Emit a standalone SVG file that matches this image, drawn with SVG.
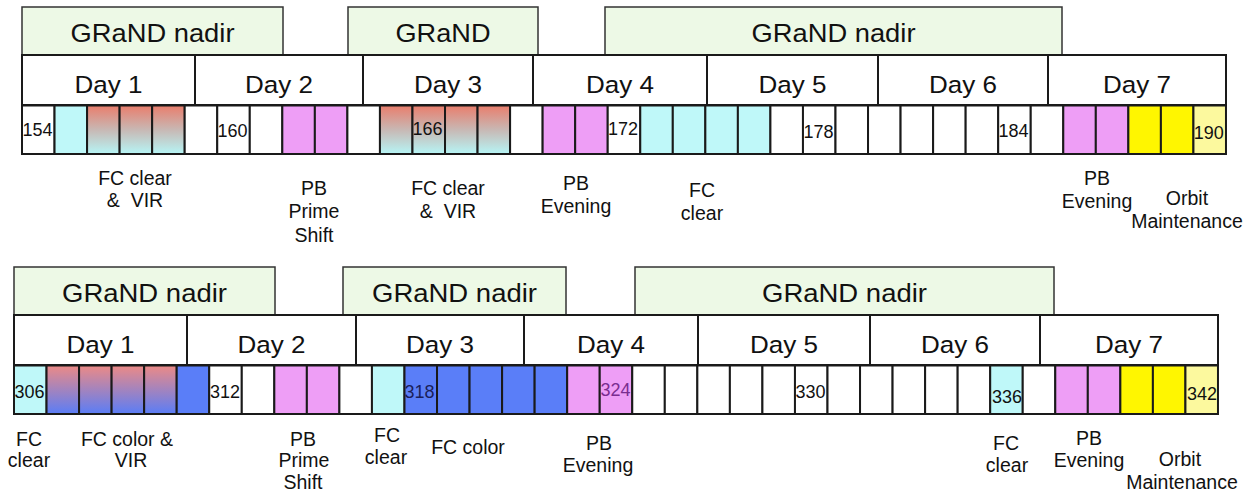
<svg xmlns="http://www.w3.org/2000/svg" width="1251" height="491" viewBox="0 0 1251 491">
<defs>
<linearGradient id="gRC" x1="0" y1="0" x2="0" y2="1">
<stop offset="0" stop-color="#E97D6C"/>
<stop offset="0.5" stop-color="#C8B8B4"/>
<stop offset="1" stop-color="#B6F5F6"/>
</linearGradient>
<linearGradient id="gRB" x1="0" y1="0" x2="0" y2="1">
<stop offset="0" stop-color="#EC8A86"/>
<stop offset="1" stop-color="#5A7DF6"/>
</linearGradient>
<style>
.mode{fill:#EDF9E6;stroke:#333;stroke-width:1.5}
.day{fill:#fff;stroke:#1a1a1a;stroke-width:2}
.c{stroke:#1a1a1a;stroke-width:2}
.W{fill:#fff}.C{fill:#BFF8F9}.M{fill:#EE9EF6}.Y{fill:#FFF600}.L{fill:#FCF99E}.B{fill:#5A7EF8}
.G1{fill:url(#gRC)}.G2{fill:url(#gRB)}
text{font-family:"Liberation Sans",Arial,sans-serif;fill:#111}
.big{font-size:26px;text-anchor:middle}
.dt{font-size:24.5px;text-anchor:middle}
.num{font-size:18px}
.lab{font-size:19.5px;text-anchor:middle}
</style>
</defs>
<rect width="1251" height="491" fill="#fff"/>

<!-- TOP TIMELINE -->
<g id="top-mode-1"><rect class="mode" x="22" y="7" width="261" height="48"/><text class="big" x="152.5" y="41.5" textLength="164" lengthAdjust="spacingAndGlyphs">GRaND nadir</text></g>
<g id="top-mode-2"><rect class="mode" x="348" y="7" width="190" height="48"/><text class="big" x="443" y="41.5" textLength="95" lengthAdjust="spacingAndGlyphs">GRaND</text></g>
<g id="top-mode-3"><rect class="mode" x="605" y="7" width="457" height="48"/><text class="big" x="833.5" y="41.5" textLength="164" lengthAdjust="spacingAndGlyphs">GRaND nadir</text></g>

<g id="top-day-1"><rect class="day" x="22" y="55" width="173" height="50"/><text class="dt" x="108.5" y="92.5" textLength="68" lengthAdjust="spacingAndGlyphs">Day 1</text></g>
<g id="top-day-2"><rect class="day" x="195" y="55" width="168" height="50"/><text class="dt" x="279" y="92.5" textLength="68" lengthAdjust="spacingAndGlyphs">Day 2</text></g>
<g id="top-day-3"><rect class="day" x="363" y="55" width="170" height="50"/><text class="dt" x="448" y="92.5" textLength="68" lengthAdjust="spacingAndGlyphs">Day 3</text></g>
<g id="top-day-4"><rect class="day" x="533" y="55" width="174" height="50"/><text class="dt" x="620" y="92.5" textLength="68" lengthAdjust="spacingAndGlyphs">Day 4</text></g>
<g id="top-day-5"><rect class="day" x="707" y="55" width="171" height="50"/><text class="dt" x="792.5" y="92.5" textLength="68" lengthAdjust="spacingAndGlyphs">Day 5</text></g>
<g id="top-day-6"><rect class="day" x="878" y="55" width="170" height="50"/><text class="dt" x="963" y="92.5" textLength="68" lengthAdjust="spacingAndGlyphs">Day 6</text></g>
<g id="top-day-7"><rect class="day" x="1048" y="55" width="178" height="50"/><text class="dt" x="1137" y="92.5" textLength="68" lengthAdjust="spacingAndGlyphs">Day 7</text></g>

<g id="top-cells">
<rect class="c W" x="22" y="105.5" width="32.54" height="48.5"/>
<rect class="c C" x="54.54" y="105.5" width="32.54" height="48.5"/>
<rect class="c G1" x="87.08" y="105.5" width="32.54" height="48.5"/>
<rect class="c G1" x="119.62" y="105.5" width="32.54" height="48.5"/>
<rect class="c G1" x="152.16" y="105.5" width="32.54" height="48.5"/>
<rect class="c W" x="184.70" y="105.5" width="32.54" height="48.5"/>
<rect class="c W" x="217.24" y="105.5" width="32.54" height="48.5"/>
<rect class="c W" x="249.78" y="105.5" width="32.54" height="48.5"/>
<rect class="c M" x="282.32" y="105.5" width="32.54" height="48.5"/>
<rect class="c M" x="314.86" y="105.5" width="32.54" height="48.5"/>
<rect class="c W" x="347.40" y="105.5" width="32.54" height="48.5"/>
<rect class="c G1" x="379.94" y="105.5" width="32.54" height="48.5"/>
<rect class="c G1" x="412.48" y="105.5" width="32.54" height="48.5"/>
<rect class="c G1" x="445.02" y="105.5" width="32.54" height="48.5"/>
<rect class="c G1" x="477.56" y="105.5" width="32.54" height="48.5"/>
<rect class="c W" x="510.10" y="105.5" width="32.54" height="48.5"/>
<rect class="c M" x="542.64" y="105.5" width="32.54" height="48.5"/>
<rect class="c M" x="575.18" y="105.5" width="32.54" height="48.5"/>
<rect class="c W" x="607.72" y="105.5" width="32.54" height="48.5"/>
<rect class="c C" x="640.26" y="105.5" width="32.54" height="48.5"/>
<rect class="c C" x="672.80" y="105.5" width="32.54" height="48.5"/>
<rect class="c C" x="705.34" y="105.5" width="32.54" height="48.5"/>
<rect class="c C" x="737.88" y="105.5" width="32.54" height="48.5"/>
<rect class="c W" x="770.42" y="105.5" width="32.54" height="48.5"/>
<rect class="c W" x="802.96" y="105.5" width="32.54" height="48.5"/>
<rect class="c W" x="835.50" y="105.5" width="32.54" height="48.5"/>
<rect class="c W" x="868.04" y="105.5" width="32.54" height="48.5"/>
<rect class="c W" x="900.58" y="105.5" width="32.54" height="48.5"/>
<rect class="c W" x="933.12" y="105.5" width="32.54" height="48.5"/>
<rect class="c W" x="965.66" y="105.5" width="32.54" height="48.5"/>
<rect class="c W" x="998.20" y="105.5" width="32.54" height="48.5"/>
<rect class="c W" x="1030.74" y="105.5" width="32.54" height="48.5"/>
<rect class="c M" x="1063.28" y="105.5" width="32.54" height="48.5"/>
<rect class="c M" x="1095.82" y="105.5" width="32.54" height="48.5"/>
<rect class="c Y" x="1128.36" y="105.5" width="32.54" height="48.5"/>
<rect class="c Y" x="1160.90" y="105.5" width="32.54" height="48.5"/>
<rect class="c L" x="1193.44" y="105.5" width="32.54" height="48.5"/>
<text class="num" x="22.5" y="136">154</text>
<text class="num" x="217.5" y="136.5">160</text>
<text class="num" x="412.5" y="135">166</text>
<text class="num" x="608" y="135">172</text>
<text class="num" x="803.5" y="138">178</text>
<text class="num" x="998.5" y="137">184</text>
<text class="num" x="1193.8" y="139">190</text>
</g>

<g id="top-label-1"><text class="lab" x="135" y="185">FC clear</text><text class="lab" x="135" y="207" xml:space="preserve">&amp;  VIR</text></g>
<g id="top-label-2"><text class="lab" x="314" y="195">PB</text><text class="lab" x="314" y="218">Prime</text><text class="lab" x="314" y="242">Shift</text></g>
<g id="top-label-3"><text class="lab" x="448" y="195">FC clear</text><text class="lab" x="448" y="218" xml:space="preserve">&amp;  VIR</text></g>
<g id="top-label-4"><text class="lab" x="576" y="190">PB</text><text class="lab" x="576" y="213">Evening</text></g>
<g id="top-label-5"><text class="lab" x="702" y="197">FC</text><text class="lab" x="702" y="220">clear</text></g>
<g id="top-label-6"><text class="lab" x="1097" y="185">PB</text><text class="lab" x="1097" y="208">Evening</text></g>
<g id="top-label-7"><text class="lab" x="1187" y="205">Orbit</text><text class="lab" x="1187" y="228">Maintenance</text></g>

<!-- BOTTOM TIMELINE -->
<g id="bot-mode-1"><rect class="mode" x="14" y="267" width="261" height="48"/><text class="big" x="144.5" y="301.5" textLength="165" lengthAdjust="spacingAndGlyphs">GRaND nadir</text></g>
<g id="bot-mode-2"><rect class="mode" x="343" y="267" width="223" height="48"/><text class="big" x="454.5" y="301.5" textLength="165" lengthAdjust="spacingAndGlyphs">GRaND nadir</text></g>
<g id="bot-mode-3"><rect class="mode" x="635" y="267" width="419" height="48"/><text class="big" x="844.5" y="301.5" textLength="165" lengthAdjust="spacingAndGlyphs">GRaND nadir</text></g>

<g id="bot-day-1"><rect class="day" x="14" y="315" width="173" height="50"/><text class="dt" x="100.5" y="352.5" textLength="68" lengthAdjust="spacingAndGlyphs">Day 1</text></g>
<g id="bot-day-2"><rect class="day" x="187" y="315" width="169" height="50"/><text class="dt" x="271.5" y="352.5" textLength="68" lengthAdjust="spacingAndGlyphs">Day 2</text></g>
<g id="bot-day-3"><rect class="day" x="356" y="315" width="168" height="50"/><text class="dt" x="440" y="352.5" textLength="68" lengthAdjust="spacingAndGlyphs">Day 3</text></g>
<g id="bot-day-4"><rect class="day" x="524" y="315" width="174" height="50"/><text class="dt" x="611" y="352.5" textLength="68" lengthAdjust="spacingAndGlyphs">Day 4</text></g>
<g id="bot-day-5"><rect class="day" x="698" y="315" width="172" height="50"/><text class="dt" x="784" y="352.5" textLength="68" lengthAdjust="spacingAndGlyphs">Day 5</text></g>
<g id="bot-day-6"><rect class="day" x="870" y="315" width="170" height="50"/><text class="dt" x="955" y="352.5" textLength="68" lengthAdjust="spacingAndGlyphs">Day 6</text></g>
<g id="bot-day-7"><rect class="day" x="1040" y="315" width="178" height="50"/><text class="dt" x="1129" y="352.5" textLength="68" lengthAdjust="spacingAndGlyphs">Day 7</text></g>

<g id="bot-cells">
<rect class="c C" x="14" y="365.5" width="32.54" height="48.5"/>
<rect class="c G2" x="46.54" y="365.5" width="32.54" height="48.5"/>
<rect class="c G2" x="79.08" y="365.5" width="32.54" height="48.5"/>
<rect class="c G2" x="111.62" y="365.5" width="32.54" height="48.5"/>
<rect class="c G2" x="144.16" y="365.5" width="32.54" height="48.5"/>
<rect class="c B" x="176.70" y="365.5" width="32.54" height="48.5"/>
<rect class="c W" x="209.24" y="365.5" width="32.54" height="48.5"/>
<rect class="c W" x="241.78" y="365.5" width="32.54" height="48.5"/>
<rect class="c M" x="274.32" y="365.5" width="32.54" height="48.5"/>
<rect class="c M" x="306.86" y="365.5" width="32.54" height="48.5"/>
<rect class="c W" x="339.40" y="365.5" width="32.54" height="48.5"/>
<rect class="c C" x="371.94" y="365.5" width="32.54" height="48.5"/>
<rect class="c B" x="404.48" y="365.5" width="32.54" height="48.5"/>
<rect class="c B" x="437.02" y="365.5" width="32.54" height="48.5"/>
<rect class="c B" x="469.56" y="365.5" width="32.54" height="48.5"/>
<rect class="c B" x="502.10" y="365.5" width="32.54" height="48.5"/>
<rect class="c B" x="534.64" y="365.5" width="32.54" height="48.5"/>
<rect class="c M" x="567.18" y="365.5" width="32.54" height="48.5"/>
<rect class="c M" x="599.72" y="365.5" width="32.54" height="48.5"/>
<rect class="c W" x="632.26" y="365.5" width="32.54" height="48.5"/>
<rect class="c W" x="664.80" y="365.5" width="32.54" height="48.5"/>
<rect class="c W" x="697.34" y="365.5" width="32.54" height="48.5"/>
<rect class="c W" x="729.88" y="365.5" width="32.54" height="48.5"/>
<rect class="c W" x="762.42" y="365.5" width="32.54" height="48.5"/>
<rect class="c W" x="794.96" y="365.5" width="32.54" height="48.5"/>
<rect class="c W" x="827.50" y="365.5" width="32.54" height="48.5"/>
<rect class="c W" x="860.04" y="365.5" width="32.54" height="48.5"/>
<rect class="c W" x="892.58" y="365.5" width="32.54" height="48.5"/>
<rect class="c W" x="925.12" y="365.5" width="32.54" height="48.5"/>
<rect class="c W" x="957.66" y="365.5" width="32.54" height="48.5"/>
<rect class="c C" x="990.20" y="365.5" width="32.54" height="48.5"/>
<rect class="c W" x="1022.74" y="365.5" width="32.54" height="48.5"/>
<rect class="c M" x="1055.28" y="365.5" width="32.54" height="48.5"/>
<rect class="c M" x="1087.82" y="365.5" width="32.54" height="48.5"/>
<rect class="c Y" x="1120.36" y="365.5" width="32.54" height="48.5"/>
<rect class="c Y" x="1152.90" y="365.5" width="32.54" height="48.5"/>
<rect class="c L" x="1185.44" y="365.5" width="32.54" height="48.5"/>
<text class="num" x="14.5" y="397.5">306</text>
<text class="num" x="210" y="398">312</text>
<text class="num" x="404.5" y="398" style="fill:#1B1F5A">318</text>
<text class="num" x="600.5" y="396" style="fill:#7A2D90">324</text>
<text class="num" x="795.5" y="398">330</text>
<text class="num" x="992" y="403">336</text>
<text class="num" x="1187" y="400">342</text>
</g>

<g id="bot-label-1"><text class="lab" x="29" y="446">FC</text><text class="lab" x="29" y="467">clear</text></g>
<g id="bot-label-2"><text class="lab" x="127" y="446">FC color &amp;</text><text class="lab" x="131" y="467">VIR</text></g>
<g id="bot-label-3"><text class="lab" x="303" y="446">PB</text><text class="lab" x="304" y="467">Prime</text><text class="lab" x="303" y="489">Shift</text></g>
<g id="bot-label-4"><text class="lab" x="387" y="442">FC</text><text class="lab" x="386" y="464">clear</text></g>
<g id="bot-label-5"><text class="lab" x="468" y="454">FC color</text></g>
<g id="bot-label-6"><text class="lab" x="599" y="450">PB</text><text class="lab" x="598" y="472">Evening</text></g>
<g id="bot-label-7"><text class="lab" x="1006" y="450">FC</text><text class="lab" x="1007" y="472">clear</text></g>
<g id="bot-label-8"><text class="lab" x="1089" y="445">PB</text><text class="lab" x="1089" y="467">Evening</text></g>
<g id="bot-label-9"><text class="lab" x="1180" y="466">Orbit</text><text class="lab" x="1182" y="489">Maintenance</text></g>

<g id="connectors"/>
</svg>
